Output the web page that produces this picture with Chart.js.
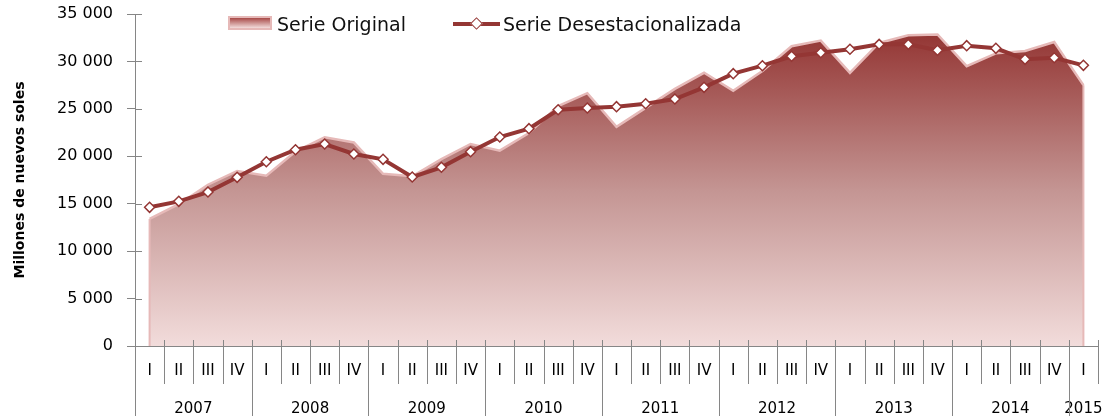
<!DOCTYPE html>
<html>
<head>
<meta charset="utf-8">
<script src="https://cdn.jsdelivr.net/npm/chart.js@4/dist/chart.umd.min.js"></script>
<style>
  html, body { margin: 0; padding: 0; background: #fff; }
  #wrap { position: relative; width: 1105px; height: 416px; }
  .lg-item { position: absolute; font: 19px "DejaVu Sans", sans-serif; color: #111; line-height: 22px; white-space: nowrap; }
  .sw-area { position: absolute; width: 40px; height: 10px; border: 2px solid #E6B9B8;
             background: linear-gradient(#A84A48, #F2DCDB); }
  .sw-line { position: absolute; width: 47px; height: 4px; background: #943634; }
  .sw-dot { position: absolute; width: 7px; height: 7px; background: #fff; border: 1.5px solid #943634; transform: rotate(45deg); }
</style>
</head>
<body>
<div id="wrap">
  <canvas id="chart" width="1105" height="416"></canvas>
</div>
<script>
// trimestres y años del eje X
const quarters = ['I','II','III','IV','I','II','III','IV','I','II','III','IV','I','II','III','IV',
                  'I','II','III','IV','I','II','III','IV','I','II','III','IV','I','II','III','IV','I'];
const years = ['2007','2008','2009','2010','2011','2012','2013','2014','2015'];
const yearTickPos = [1.5, 5.5, 9.5, 13.5, 17.5, 21.5, 25.5, 29.5, 32];

// millones de nuevos soles
const serieOriginal = [13400, 14950, 17000, 18450, 17950, 20500, 22000, 21450,
                       18150, 17900, 19700, 21300, 20600, 22450, 25300, 26650,
                       23100, 25100, 27100, 28800, 26900, 29000, 31600, 32200,
                       28800, 31950, 32750, 32850, 29500, 30850, 31100, 32050, 27500];
const serieDesest = [14620, 15250, 16230, 17780, 19430, 20690, 21290, 20240,
                     19680, 17820, 18840, 20480, 22030, 22910, 24910, 25090,
                     25230, 25540, 26040, 27270, 28710, 29550, 30540, 30920,
                     31280, 31800, 31800, 31170, 31660, 31380, 30220, 30390, 29590];

const DARK = '#943634';
const PINK = '#E6B9B8';
const AXIS = '#868686';
const FONT = '"DejaVu Sans", sans-serif';

const fmtMiles = v => String(v).replace(/\B(?=(\d{3})+(?!\d))/g, ' ');

// quitar el relleno lateral que Chart.js reserva para las etiquetas
const noSidePad = (s, h) => { s.height = h; s.paddingLeft = 0; s.paddingRight = 0; };

// separadores del eje de categorías (trimestres / años) y marcas cruzadas del eje Y
const separators = {
    id: 'separators',
    afterDatasetsDraw(chart) {
        const { ctx, scales: { x, y } } = chart;
        // bordes verticales del área
        ctx.save();
        ctx.strokeStyle = PINK;
        ctx.lineWidth = 2;
        ctx.beginPath();
        const last = serieOriginal.length - 1;
        ctx.moveTo(x.getPixelForValue(0), y.getPixelForValue(0));
        ctx.lineTo(x.getPixelForValue(0), y.getPixelForValue(serieOriginal[0]));
        ctx.moveTo(x.getPixelForValue(last), y.getPixelForValue(0));
        ctx.lineTo(x.getPixelForValue(last), y.getPixelForValue(serieOriginal[last]));
        ctx.stroke();
        ctx.restore();
    },
    afterDraw(chart) {
        const { ctx, scales: { x, y } } = chart;
        const step = x.getPixelForValue(1) - x.getPixelForValue(0);
        ctx.save();
        ctx.strokeStyle = AXIS;
        ctx.lineWidth = 1;
        ctx.beginPath();
        for (let i = 0; i <= quarters.length; i++) {
            const px = Math.round(x.getPixelForValue(i) - step / 2) + 0.5;
            const isYear = i % 4 === 0 && i < quarters.length;
            ctx.moveTo(px, x.top - 6);
            ctx.lineTo(px, isYear ? chart.height : x.top + 38);
        }
        y.ticks.forEach(t => {
            const py = Math.round(y.getPixelForValue(t.value)) + 0.5;
            ctx.moveTo(y.right, py);
            ctx.lineTo(y.right + 7, py);
        });
        ctx.stroke();
        ctx.restore();
    }
};

const ctx = document.getElementById('chart');
const chart = new Chart(ctx, {
    type: 'line',
    data: {
        labels: quarters,
        datasets: [
            {
                label: 'Serie Desestacionalizada',
                data: serieDesest,
                borderColor: DARK,
                borderWidth: 4,
                pointStyle: 'rectRot',
                pointRadius: 5,
                pointBackgroundColor: '#fff',
                pointBorderColor: DARK,
                pointBorderWidth: 1.5,
                fill: false,
                tension: 0,
                order: 0
            },
            {
                label: 'Serie Original',
                data: serieOriginal,
                borderColor: PINK,
                borderWidth: 2.5,
                pointRadius: 0,
                fill: 'origin',
                tension: 0,
                order: 1,
                backgroundColor: (c) => {
                    const { chartArea, scales } = c.chart;
                    if (!chartArea) return '#C08080';
                    const top = scales.y.getPixelForValue(Math.max(...serieOriginal));
                    const g = c.chart.ctx.createLinearGradient(0, top, 0, chartArea.bottom);
                    g.addColorStop(0, '#943634');
                    g.addColorStop(0.5, '#C49593');
                    g.addColorStop(1, '#F2DCDB');
                    return g;
                }
            }
        ]
    },
    options: {
        responsive: false,
        animation: false,
        devicePixelRatio: 1,
        layout: { padding: { left: 0, top: 14, right: 7, bottom: 0 } },
        plugins: {
            legend: { display: false },
            tooltip: { enabled: false }
        },
        scales: {
            y: {
                min: 0,
                max: 35000,
                afterFit: (s) => { s.width = 135; s.paddingTop = 0; s.paddingBottom = 0; },
                ticks: {
                    stepSize: 5000,
                    padding: 14,
                    color: '#000',
                    font: { family: FONT, size: 16 },
                    callback: (v) => fmtMiles(v)
                },
                grid: { drawOnChartArea: false, tickLength: 8, color: AXIS },
                border: { color: AXIS },
                title: {
                    display: true,
                    text: 'Millones de nuevos soles',
                    color: '#000',
                    font: { family: FONT, size: 14, weight: 'bold' },
                    padding: { top: 12, bottom: 0 }
                }
            },
            x: {
                offset: true,
                afterFit: (s) => noSidePad(s, 36),
                grid: { display: false },
                border: { color: AXIS },
                ticks: {
                    autoSkip: false,
                    maxRotation: 0,
                    padding: 8,
                    color: '#000',
                    font: { family: FONT, size: 15 }
                }
            },
            years: {
                type: 'linear',
                position: 'bottom',
                weight: 1,
                min: -0.5,
                max: 32.5,
                afterFit: (s) => noSidePad(s, 34),
                afterBuildTicks: (s) => { s.ticks = yearTickPos.map(v => ({ value: v })); },
                grid: { display: false },
                border: { display: false },
                ticks: {
                    autoSkip: false,
                    maxRotation: 0,
                    padding: 10,
                    color: '#000',
                    font: { family: FONT, size: 15 },
                    callback: (v, i) => years[i]
                }
            }
        }
    },
    plugins: [separators]
});

// leyenda HTML dentro del área del gráfico
const wrap = document.getElementById('wrap');
function legendItem(label, left, swatchHtml, textLeft) {
    const sw = document.createElement('div');
    sw.innerHTML = swatchHtml;
    sw.style.cssText = `position:absolute;left:${left}px;top:0;`;
    wrap.appendChild(sw);
    const t = document.createElement('div');
    t.className = 'lg-item';
    t.style.left = textLeft + 'px';
    t.style.top = '13px';
    t.textContent = label;
    wrap.appendChild(t);
}
legendItem(chart.data.datasets[1].label, 228,
    '<div class="sw-area" style="left:0;top:16px"></div>', 277);
legendItem(chart.data.datasets[0].label, 453,
    '<div class="sw-line" style="left:0;top:22px"></div><div class="sw-dot" style="left:19px;top:19px"></div>', 503);
</script>
</body>
</html>
